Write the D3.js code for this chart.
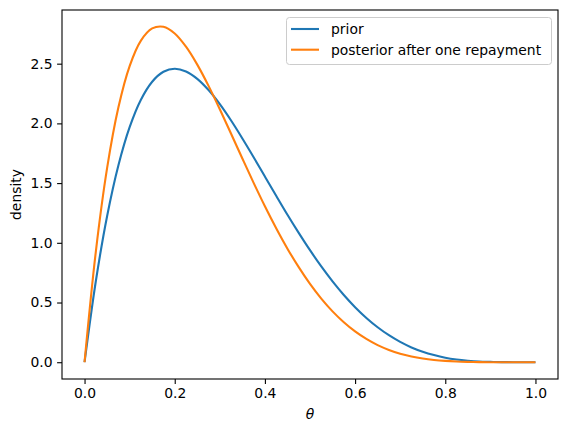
<!DOCTYPE html>
<html>
<head>
<meta charset="utf-8">
<script src="https://cdn.jsdelivr.net/npm/d3@7"></script>
<style>
  body { margin: 0; background: #fff; }
  text { font-family: "DejaVu Sans", sans-serif; fill: #000; }
</style>
</head>
<body>
<svg width="567" height="433"></svg>
<script>
// theta grid, every 0.025
var theta = [
  0, 0.025, 0.05, 0.075, 0.1, 0.125, 0.15, 0.175, 0.2, 0.225,
  0.25, 0.275, 0.3, 0.325, 0.35, 0.375, 0.4, 0.425, 0.45, 0.475,
  0.5, 0.525, 0.55, 0.575, 0.6, 0.625, 0.65, 0.675, 0.7, 0.725,
  0.75, 0.775, 0.8, 0.825, 0.85, 0.875, 0.9, 0.925, 0.95, 0.975, 1
];

var prior = [
  0, 0.678, 1.222, 1.647, 1.968, 2.198, 2.349, 2.432, 2.458, 2.435,
  2.373, 2.279, 2.161, 2.024, 1.874, 1.717, 1.555, 1.394, 1.235, 1.083,
  0.938, 0.802, 0.677, 0.563, 0.461, 0.371, 0.293, 0.226, 0.170, 0.124,
  0.088, 0.060, 0.038, 0.023, 0.013, 0.006, 0.003, 0.001, 0.0002, 0, 0
];

var posterior = [
  0, 0.925, 1.625, 2.133, 2.480, 2.693, 2.795, 2.809, 2.753, 2.642,
  2.492, 2.314, 2.118, 1.913, 1.706, 1.502, 1.306, 1.122, 0.951, 0.796,
  0.656, 0.533, 0.426, 0.335, 0.258, 0.195, 0.143, 0.103, 0.071, 0.048,
  0.031, 0.019, 0.011, 0.006, 0.003, 0.001, 0.0004, 0.0001, 0, 0, 0
];

var seriesNames = ['prior', 'posterior after one repayment'];
var xTicks = [0, 0.2, 0.4, 0.6, 0.8, 1.0];
var yTicks = [0, 0.5, 1.0, 1.5, 2.0, 2.5];

var colors = ['#1f77b4', '#ff7f0e'];
var mLeft = 62, mRight = 558, mTop = 10, mBottom = 379;
var fs = 13.9;

var svg = d3.select('svg');

var yMax = d3.max(prior.concat(posterior));
var xPad = 0.05, yPad = yMax * 0.05;

var x = d3.scaleLinear().domain([-xPad, 1 + xPad]).range([mLeft, mRight]);
var y = d3.scaleLinear().domain([-yPad, yMax + yPad]).range([mBottom, mTop]);

var line = d3.line()
  .x(function (d, i) { return x(theta[i]); })
  .y(function (d) { return y(d); })
  .curve(d3.curveCatmullRom.alpha(0.5));

[prior, posterior].forEach(function (s, k) {
  svg.append('path')
     .attr('d', line(s))
     .attr('fill', 'none')
     .attr('stroke', colors[k])
     .attr('stroke-width', 2.1)
     .attr('stroke-linejoin', 'round');
});

// axes
var xAxis = svg.append('g')
  .attr('transform', 'translate(0,' + mBottom + ')')
  .call(d3.axisBottom(x).tickValues(xTicks).tickFormat(d3.format('.1f')).tickSizeOuter(0).tickSize(4.9).tickPadding(4.5));
var yAxis = svg.append('g')
  .attr('transform', 'translate(' + mLeft + ',0)')
  .call(d3.axisLeft(y).tickValues(yTicks).tickFormat(d3.format('.1f')).tickSizeOuter(0).tickSize(4.9).tickPadding(4.5));

[xAxis, yAxis].forEach(function (g) {
  g.select('.domain').remove();
  g.selectAll('line').attr('stroke', '#000').attr('stroke-width', 1.1);
  g.selectAll('text')
   .style('font-family', '"DejaVu Sans", sans-serif')
   .style('font-size', fs + 'px')
   .attr('fill', '#000');
});

// frame
svg.append('rect')
   .attr('x', mLeft).attr('y', mTop)
   .attr('width', mRight - mLeft).attr('height', mBottom - mTop)
   .attr('fill', 'none')
   .attr('stroke', '#000')
   .attr('stroke-width', 1.1);

// labels
svg.append('text')
   .attr('x', (mLeft + mRight) / 2).attr('y', 419)
   .attr('text-anchor', 'middle')
   .style('font-size', fs + 'px')
   .style('font-style', 'italic')
   .text('θ');

svg.append('text')
   .attr('transform', 'translate(21,' + (mTop + mBottom) / 2 + ') rotate(-90)')
   .attr('text-anchor', 'middle')
   .style('font-size', fs + 'px')
   .text('density');

// legend
var legend = svg.append('g');
legend.append('rect')
   .attr('x', 286.5).attr('y', 17.5)
   .attr('width', 265).attr('height', 47)
   .attr('rx', 3)
   .attr('fill', '#fff')
   .attr('fill-opacity', 0.8)
   .attr('stroke', '#ccc')
   .attr('stroke-width', 1);

seriesNames.forEach(function (name, k) {
  var ly = 29 + k * 20.7;
  legend.append('line')
     .attr('x1', 291).attr('x2', 319)
     .attr('y1', ly).attr('y2', ly)
     .attr('stroke', colors[k])
     .attr('stroke-width', 2.1);
  legend.append('text')
     .attr('x', 331).attr('y', ly)
     .attr('dy', '0.35em')
     .style('font-size', fs + 'px')
     .text(name);
});
</script>
</body>
</html>
